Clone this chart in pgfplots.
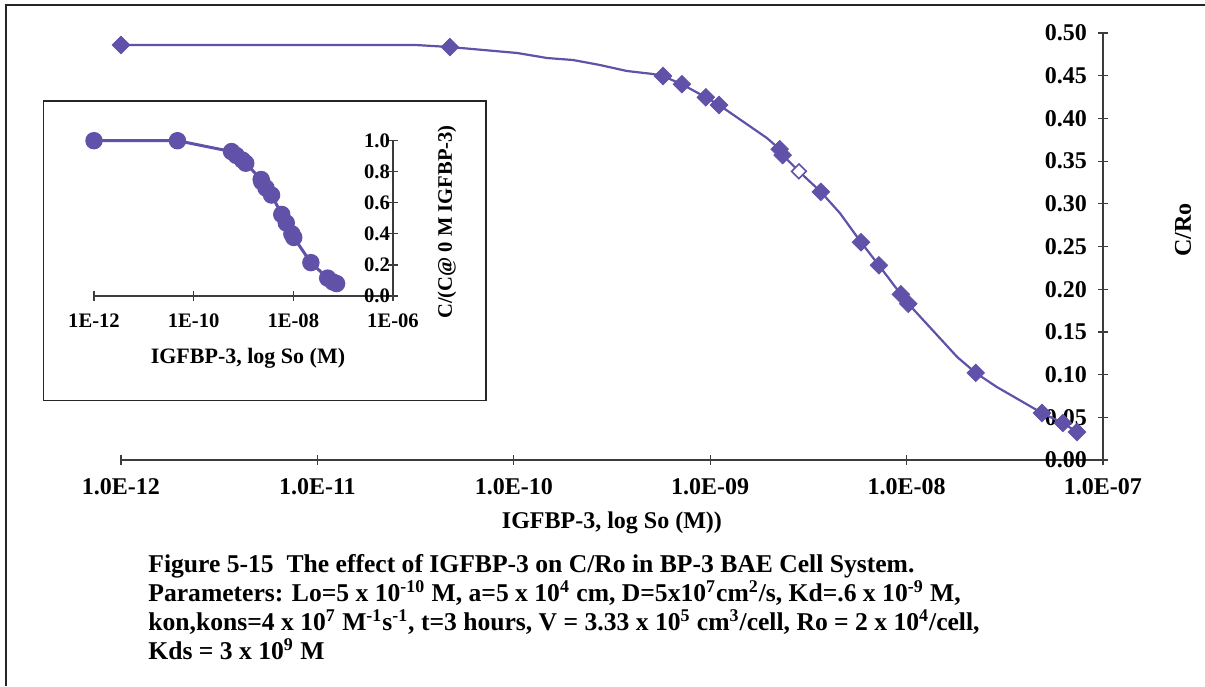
\documentclass[border=0pt]{standalone}
\usepackage{pgfplots}
\pgfplotsset{compat=1.18}
\usepackage{fontspec}
\setmainfont{Liberation Serif}
\definecolor{cpurple}{RGB}{97,81,168}
\definecolor{axgray}{RGB}{60,60,60}
\begin{document}
\begin{tikzpicture}[x=0.5pt,y=0.5pt]
\useasboundingbox (0,0) rectangle (1205,686);
\draw[line width=1pt, black!85] (6,0) -- (6,681) -- (1205,681);
% main axis
\begin{axis}[
  at={(60.5pt,113pt)}, anchor=south west,
  scale only axis, width=491pt, height=213.5pt,
  xmode=log, xmin=1e-12, xmax=1e-7, ymin=0, ymax=0.5,
  axis x line=bottom, axis y line=right, axis line style={-, axgray, line width=0.7pt},
  tick align=center, major tick length=5pt, xminorticks=false, minor y tick num=0,
  tick style={axgray, line width=0.6pt},
  xtick={1e-12,1e-11,1e-10,1e-9,1e-8,1e-7},
  xticklabels={1.0E-12,1.0E-11,1.0E-10,1.0E-09,1.0E-08,1.0E-07},
  ytick={0,0.05,0.10,0.15,0.20,0.25,0.30,0.35,0.40,0.45,0.50},
  yticklabels={0.00,0.05,0.10,0.15,0.20,0.25,0.30,0.35,0.40,0.45,0.50},
  /pgf/number format/assume math mode=true,
  tick label style={font=\bfseries\fontsize{12}{13}\selectfont},
  yticklabel style={anchor=east, xshift=-7pt},
  xticklabel style={yshift=-3pt},
  xlabel={IGFBP-3, log So (M))},
  ylabel={C/Ro},
  label style={font=\bfseries\fontsize{12}{13}\selectfont},
  xlabel style={at={(axis description cs:0.5,-0.1475)}, anchor=center},
  ylabel style={at={(axis description cs:1.0815,0.5386)}, anchor=center},
  clip=false,
]
\addplot[cpurple, line width=1.1pt, mark=none] coordinates {
(1e-12,0.486) (2.8e-12,0.486) (1.23e-11,0.486) (1.96e-11,0.486) (3.14e-11,0.486)
(4.73e-11,0.4836) (1.04e-10,0.4766) (1.48e-10,0.4707) (2.0e-10,0.4684)
(2.75e-10,0.4625) (3.77e-10,0.4555) (5.11e-10,0.452) (5.75e-10,0.4496)
(7.18e-10,0.440) (9.5e-10,0.4247) (1.11e-9,0.4157) (1.945e-9,0.377)
(2.26e-9,0.364) (2.34e-9,0.357) (2.83e-9,0.338) (3.66e-9,0.314)
(4.58e-9,0.289) (5.86e-9,0.255) (7.23e-9,0.228) (9.35e-9,0.194)
(1.02e-8,0.183) (1.81e-8,0.1206) (2.25e-8,0.102) (2.88e-8,0.0855)
(4.89e-8,0.055) (6.25e-8,0.0433) (7.38e-8,0.0328)
};
\addplot[only marks, mark=square*, mark size=3.1pt, mark options={rotate=45, fill=cpurple, draw=cpurple}] coordinates {
(1e-12,0.486) (4.73e-11,0.4836) (5.75e-10,0.4496) (7.18e-10,0.440)
(9.5e-10,0.4247) (1.11e-9,0.4157) (2.26e-9,0.364) (2.34e-9,0.357)
(3.66e-9,0.314) (5.86e-9,0.255) (7.23e-9,0.228) (9.35e-9,0.194)
(1.02e-8,0.183) (2.25e-8,0.102) (4.89e-8,0.055) (6.25e-8,0.0433)
(7.38e-8,0.0328)
};
\addplot[only marks, mark=square*, mark size=2.6pt, mark options={rotate=45, fill=white, draw=cpurple, line width=0.8pt}] coordinates {
(2.83e-9,0.338)
};
\end{axis}
% inset box
\draw[fill=white, draw=black!85, line width=0.8pt] (43.5,285.3) rectangle (486,585);
\begin{axis}[
  at={(47pt,195pt)}, anchor=south west,
  scale only axis, width=149.5pt, height=77.65pt,
  xmode=log, xmin=1e-12, xmax=1e-6, ymin=0, ymax=1.0,
  axis x line=bottom, axis y line=right, axis line style={-, axgray, line width=0.7pt},
  tick align=center, major tick length=5pt, xminorticks=false, minor y tick num=0,
  tick style={axgray, line width=0.6pt},
  xtick={1e-12,1e-10,1e-8,1e-6},
  xticklabels={1E-12,1E-10,1E-08,1E-06},
  ytick={0,0.2,0.4,0.6,0.8,1.0},
  yticklabels={0.0,0.2,0.4,0.6,0.8,1.0},
  /pgf/number format/assume math mode=true,
  tick label style={font=\bfseries\fontsize{10.3}{11}\selectfont},
  yticklabel style={anchor=east, xshift=-0.5pt},
  xticklabel style={yshift=-3pt},
  xlabel={IGFBP-3, log So (M)},
  ylabel={C/(C@ 0 M IGFBP-3)},
  xlabel style={font=\bfseries\fontsize{11}{12}\selectfont, at={(axis description cs:0.515,-0.399)}, anchor=center},
  ylabel style={font=\bfseries\fontsize{10.3}{11}\selectfont, at={(axis description cs:1.1806,0.4765)}, anchor=center},
  clip=false,
]
\addplot[cpurple, line width=1.5pt, mark=*, mark size=3.6pt, mark options={fill=cpurple, draw=cpurple}] coordinates {
(1e-12,1.0) (4.73e-11,1.0) (5.75e-10,0.93) (7.18e-10,0.905) (9.5e-10,0.875)
(1.11e-9,0.855) (2.26e-9,0.75) (2.34e-9,0.735) (2.83e-9,0.695) (3.66e-9,0.65)
(5.86e-9,0.525) (7.23e-9,0.47) (9.35e-9,0.40) (1.02e-8,0.377) (2.25e-8,0.215)
(4.89e-8,0.115) (6.25e-8,0.09) (7.38e-8,0.08)
};
\end{axis}
% caption
\begin{scope}[every node/.style={anchor=base west, inner sep=0pt, font=\bfseries\fontsize{12.8}{14}\selectfont}]
\node at (148,114) {Figure 5-15\ \ The effect of IGFBP-3 on C/Ro in BP-3 BAE Cell System.};
\node at (148,85) {Parameters: Lo=5 x 10\textsuperscript{-10} M, a=5 x 10\textsuperscript{4} cm, D=5x10\textsuperscript{7}cm\textsuperscript{2}/s, Kd=.6 x 10\textsuperscript{-9} M,};
\node at (148,56) {kon,kons=4 x 10\textsuperscript{7} M\textsuperscript{-1}s\textsuperscript{-1}, t=3 hours, V = 3.33 x 10\textsuperscript{5} cm\textsuperscript{3}/cell, Ro = 2 x 10\textsuperscript{4}/cell,};
\node at (148,27) {Kds = 3 x 10\textsuperscript{9} M};
\end{scope}
\end{tikzpicture}
\end{document}
